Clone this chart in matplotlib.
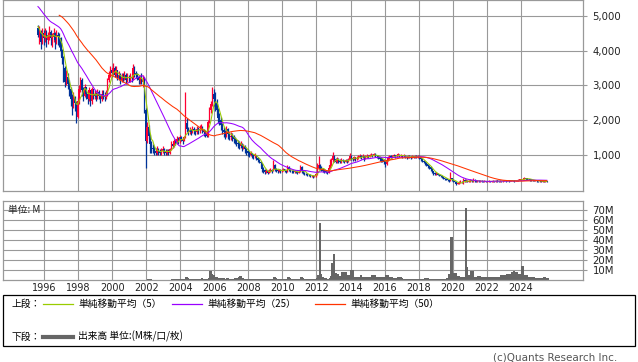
import numpy as np
import pandas as pd
import matplotlib
matplotlib.use("Agg")
import matplotlib.pyplot as plt
from matplotlib.patches import Rectangle
from matplotlib.lines import Line2D
from matplotlib.ticker import FuncFormatter

# monthly closes before the visible range (Oct 1992 - Jul 1995), only used to seed the moving averages
pre_close = [5100, 5200, 5300,
             5250, 5350, 5400, 5300, 5350, 5300, 5450, 5600, 5700, 5750, 5800, 5700,
             5650, 5700, 5600, 5200, 5100, 5050, 5000, 5100, 5050, 5100, 5050, 5500,
             5600, 5550, 5450, 4900, 4800, 4700, 4650]

# monthly candles, Aug 1995 - Jul 2025 (open = previous close)
close = [4450, 4550, 4250, 4500, 4350,
         4500, 4300, 4450, 4550, 4350, 4400, 4500, 4300, 4450, 4400, 4350, 4000,
         3800, 3500, 3100, 3250, 3050, 2900, 2600, 2450, 2650, 2500, 2100, 2550,
         2900, 3150, 2850, 2700, 2950, 2750, 2600, 2850, 2550, 2900, 2700, 2750,
         2650, 2800, 2700, 2600, 2750, 2700, 2650, 2750, 3150, 3300, 3450, 3350,
         3500, 3300, 3450, 3200, 3300, 3150, 3250, 3200, 3300, 3150, 3250, 3200,
         3250, 3200, 3500, 3350, 3300, 3250, 3150, 3200, 3100, 3150, 2300, 1400,
         1800, 1550, 1300, 1200, 1150, 1100, 1050, 1150, 1100, 1050, 1100, 1150,
         1100, 1050, 1100, 1050, 1150, 1300, 1250, 1400, 1350, 1450, 1400, 1500,
         1450, 1400, 1500, 1900, 1750, 1650, 1700, 1650, 1750, 1700, 1650, 1750,
         1700, 1750, 1800, 1700, 1650, 1600, 1550, 1950, 2300, 2450, 2750, 2600,
         2500, 2300, 2050, 2000, 1850, 1700, 1650, 1550, 1750, 1600, 1500, 1550,
         1500, 1450, 1400, 1350, 1300, 1250, 1300, 1200, 1250, 1150, 1100, 1050,
         1000, 1050, 980, 950, 1000, 900, 850, 800, 750, 600, 550, 500,
         520, 480, 530, 560, 530, 700, 580, 550, 520, 560, 530, 540,
         580, 540, 520, 650, 560, 540, 520, 500, 520, 500, 480, 510,
         650, 520, 480, 450, 430, 420, 400, 380, 390, 370, 380, 430,
         620, 700, 600, 580, 540, 520, 500, 480, 620, 700, 850, 950,
         880, 800, 850, 820, 790, 850, 820, 800, 840, 810, 850, 950,
         900, 870, 920, 880, 900, 940, 960, 920, 950, 900, 930, 960,
         940, 980, 1000, 960, 1010, 990, 950, 930, 880, 860, 840, 800,
         720, 850, 900, 950, 920, 960, 980, 950, 990, 1000, 960, 980,
         950, 970, 930, 920, 960, 940, 920, 950, 930, 960, 940, 950,
         920, 860, 820, 800, 760, 720, 680, 640, 600, 520, 460, 430,
         470, 420, 400, 380, 350, 330, 310, 290, 260, 240, 330, 280,
         240, 200, 150, 170, 190, 220, 200, 260, 230, 250, 220, 240,
         260, 230, 280, 250, 230, 240, 230, 240, 230, 220, 230, 220,
         230, 240, 220, 230, 240, 230, 250, 240, 230, 240, 230, 240,
         250, 240, 250, 240, 250, 260, 250, 240, 250, 260, 270, 280,
         290, 300, 320, 310, 300, 290, 280, 270, 260, 250, 250, 240,
         230, 240, 220, 230, 220, 230, 225]

high = [4750, 4700, 4600, 4650, 4600,
        4650, 4600, 4550, 4700, 4600, 4500, 4650, 4550, 4600, 4550, 4500, 4400,
        4050, 3850, 3550, 3450, 3350, 3150, 2950, 2750, 2800, 2700, 2550, 2650,
        3000, 3250, 3200, 2950, 3050, 2950, 2800, 2950, 2850, 2950, 2850, 2850,
        2800, 2900, 2850, 2750, 2850, 2850, 2800, 2850, 3200, 3400, 3550, 3500,
        3650, 3550, 3550, 3450, 3400, 3350, 3350, 3350, 3400, 3350, 3350, 3300,
        3350, 3300, 3600, 3550, 3400, 3350, 3300, 3300, 3350, 3300, 3250, 2350,
        1950, 1850, 1600, 1400, 1300, 1250, 1200, 1250, 1200, 1150, 1200, 1250,
        1200, 1150, 1150, 1150, 1200, 1380, 1350, 1450, 1450, 1550, 1500, 1570,
        1550, 1500, 1550, 2800, 2050, 1800, 1800, 1750, 1820, 1800, 1750, 1820,
        1800, 1850, 1870, 1820, 1750, 1700, 1650, 2000, 2380, 2550, 2960, 2900,
        2800, 2600, 2350, 2200, 2100, 1900, 1800, 1700, 1820, 1780, 1650, 1650,
        1620, 1560, 1500, 1450, 1420, 1380, 1400, 1350, 1320, 1280, 1200, 1150,
        1100, 1100, 1050, 1020, 1060, 1000, 920, 870, 820, 760, 650, 580,
        580, 560, 580, 610, 600, 850, 720, 610, 580, 600, 580, 580,
        620, 600, 570, 700, 660, 590, 570, 550, 560, 540, 530, 560,
        700, 660, 540, 500, 470, 460, 440, 430, 420, 410, 420, 480,
        760, 950, 720, 680, 620, 580, 560, 540, 700, 860, 900, 1070,
        1000, 900, 920, 900, 860, 900, 880, 850, 880, 870, 900, 1040,
        980, 940, 960, 940, 950, 990, 1020, 980, 1010, 960, 980, 1010,
        1000, 1020, 1050, 1030, 1050, 1040, 1000, 980, 940, 920, 900, 870,
        810, 900, 950, 1000, 980, 1000, 1020, 1000, 1030, 1040, 1010, 1020,
        1000, 1010, 990, 960, 1000, 990, 970, 980, 970, 1000, 980, 990,
        980, 940, 880, 850, 820, 780, 740, 700, 660, 620, 540, 500,
        500, 480, 430, 410, 390, 360, 340, 320, 300, 280, 500, 340,
        290, 250, 210, 200, 230, 260, 240, 330, 290, 300, 270, 280,
        300, 280, 330, 300, 260, 270, 260, 270, 260, 250, 260, 250,
        250, 260, 250, 250, 260, 250, 270, 260, 250, 260, 250, 260,
        270, 260, 270, 260, 270, 280, 270, 260, 270, 280, 290, 300,
        310, 330, 350, 340, 320, 310, 300, 290, 280, 270, 270, 260,
        250, 260, 250, 250, 240, 250, 240]

low = [4400, 4200, 4050, 4200, 4150,
       4250, 4100, 4200, 4300, 4150, 4100, 4250, 4050, 4200, 4150, 4100, 3850,
       3600, 3100, 2950, 3000, 2900, 2700, 2400, 2150, 2350, 2250, 1900, 2050,
       2450, 2800, 2700, 2550, 2650, 2600, 2450, 2550, 2400, 2450, 2600, 2600,
       2550, 2600, 2600, 2500, 2550, 2600, 2550, 2600, 2700, 3100, 3250, 3250,
       3300, 3250, 3250, 3150, 3150, 3050, 3100, 3100, 3150, 3050, 3100, 3100,
       3100, 3100, 3150, 3250, 3200, 3150, 3050, 3050, 3050, 2950, 2200, 620,
       1350, 1450, 1050, 1050, 1050, 1000, 1000, 1000, 1000, 980, 1000, 1050,
       1000, 1000, 1000, 1000, 1030, 1130, 1200, 1230, 1280, 1300, 1300, 1350,
       1380, 1300, 1380, 1480, 1650, 1580, 1600, 1580, 1620, 1600, 1570, 1600,
       1600, 1620, 1700, 1620, 1550, 1520, 1500, 1520, 1900, 2200, 2400, 2400,
       2250, 2150, 1900, 1850, 1700, 1600, 1500, 1450, 1500, 1450, 1420, 1420,
       1400, 1350, 1300, 1250, 1200, 1150, 1200, 1100, 1150, 1050, 1000, 950,
       920, 950, 900, 880, 900, 850, 800, 750, 650, 500, 480, 450,
       460, 450, 460, 500, 480, 520, 540, 500, 480, 500, 480, 490,
       520, 500, 480, 510, 520, 490, 480, 460, 470, 460, 450, 470,
       500, 480, 440, 420, 400, 390, 370, 350, 360, 340, 350, 360,
       420, 580, 560, 520, 500, 480, 460, 450, 470, 600, 680, 800,
       800, 760, 770, 760, 750, 770, 780, 760, 780, 770, 790, 840,
       840, 810, 850, 830, 850, 880, 900, 870, 890, 830, 880, 900,
       900, 920, 950, 920, 950, 940, 900, 870, 830, 800, 790, 740,
       650, 700, 830, 880, 880, 900, 930, 900, 940, 950, 920, 930,
       900, 920, 890, 880, 900, 900, 880, 900, 890, 910, 900, 910,
       880, 820, 780, 760, 700, 660, 620, 600, 540, 460, 420, 400,
       420, 400, 370, 350, 320, 300, 280, 260, 230, 215, 230, 250,
       220, 180, 130, 140, 160, 180, 170, 150, 200, 210, 200, 210,
       220, 210, 220, 220, 210, 210, 210, 215, 210, 200, 205, 200,
       210, 220, 200, 210, 220, 210, 225, 220, 210, 220, 210, 220,
       230, 220, 230, 220, 230, 240, 230, 220, 230, 240, 250, 255,
       260, 270, 290, 280, 280, 270, 250, 250, 240, 230, 230, 220,
       210, 220, 200, 210, 200, 210, 210]

# monthly volume (M), Jan 2002 - Jul 2025
volume = [1, 0.5, 0.5, 0.4, 0.4, 0.3, 0.3, 0.3, 0.3, 0.3, 0.3, 0.3,
          0.3, 0.3, 0.3, 0.3, 0.4, 0.6, 0.5, 0.6, 0.5, 0.6, 0.5, 0.6,
          0.5, 0.5, 0.8, 2.5, 1.5, 0.8, 0.6, 0.5, 0.5, 0.5, 0.6, 0.6,
          0.6, 1.2, 1.5, 1.2, 0.6, 0.6, 0.6, 1.5, 8.5, 6, 5, 3,
          2.5, 2, 1.8, 1.5, 1.5, 1.5, 1.2, 1, 1.5, 1, 1, 0.8,
          0.8, 1.5, 2, 1.5, 2.5, 3.5, 2, 1.5, 1.2, 1, 1, 0.8,
          0.8, 0.8, 0.6, 0.6, 0.5, 0.5, 0.5, 0.5, 0.6, 0.8, 0.6, 0.5,
          0.5, 0.5, 0.6, 0.8, 1, 2.5, 2, 1, 0.6, 0.5, 0.5, 0.5,
          0.6, 0.6, 1, 2.5, 1.5, 0.8, 0.6, 0.5, 0.5, 0.5, 0.6, 0.8,
          2.5, 2, 1, 0.8, 0.6, 0.6, 0.6, 0.5, 0.6, 0.6, 1, 2,
          5, 57, 6, 3, 2, 1.5, 1, 1, 2, 4, 17, 26,
          7, 6, 6, 4, 4, 8, 5, 8, 5, 4, 5, 10,
          10, 3, 2.5, 2.5, 2.5, 3, 4.5, 3, 2.5, 2.5, 2.5, 2.5,
          2.5, 3, 4.5, 4.5, 4.5, 3, 2.5, 2.5, 3, 3, 3, 3,
          4.5, 4.5, 3, 2.5, 2.5, 2, 2, 1.5, 3, 3, 2.5, 1.5,
          1.3, 1.3, 1.3, 1.3, 1.3, 1.3, 1.3, 1.2, 1, 1, 1, 1,
          1, 1, 1, 1.6, 1.6, 1.6, 1.2, 1, 1, 1, 1, 1,
          1, 1, 1, 1.3, 1.3, 1.3, 1.3, 1.5, 6, 6, 43, 7,
          7, 7, 4, 4, 2.5, 2.5, 2.5, 2.5, 72, 13, 5, 5,
          9, 9, 2.5, 2.5, 2.5, 4, 4, 2.5, 2.5, 2.5, 2.5, 2.5,
          2.5, 2.5, 2.5, 3, 3, 2.5, 2.5, 3, 3, 5, 5, 5,
          5, 6, 6, 6, 6, 8, 9, 8, 8, 6, 6, 6,
          14, 5, 5, 5, 2.5, 2.5, 2.5, 2.5, 2.5, 2, 2, 2,
          2, 2, 2, 3, 3, 1.5, 1.5]

ma_windows = [5, 25, 50]
ma_colors = ['#99cc00', '#9900ff', '#ff3300']
ma_labels = ['単純移動平均（5）', '単純移動平均（25）', '単純移動平均（50）']
price_ticks = [1000, 2000, 3000, 4000, 5000]
vol_ticks = [10, 20, 30, 40, 50, 60, 70]
year_ticks = list(range(1996, 2025, 2))

UP = '#ff0033'
DOWN = '#003399'
GRID = '#999999'
CJK = ['Noto Sans CJK JP', 'DejaVu Sans']
W, H = 638, 362


def month_pos(y0, m0, n):
    idx = np.arange(n) + (m0 - 1)
    return y0 + (idx + 0.5) / 12.0


def fx(px):
    return px / W


def fy(py):
    return 1 - py / H


t = month_pos(1995, 8, len(close))
t_vol = month_pos(2002, 1, len(volume))

all_close = pd.Series(pre_close + close, dtype=float)
n_pre = len(pre_close)
c = np.array(close, dtype=float)
o = all_close.shift(1).values[n_pre:]

fig = plt.figure(figsize=(W / 100, H / 100), dpi=100)
ax1 = fig.add_axes([fx(3), fy(190.7), fx(579.7), 190.7 / H])
ax2 = fig.add_axes([fx(3), fy(280), fx(579.7), 79 / H])

for ax in (ax1, ax2):
    ax.set_xlim(1993.57, 2027.65)
    ax.set_xticks(year_ticks)
    ax.grid(True, color=GRID, lw=0.8)
    ax.set_axisbelow(True)
    for s in ax.spines.values():
        s.set_color(GRID)
        s.set_linewidth(0.9)
    ax.yaxis.tick_right()
    ax.tick_params(axis='y', colors=GRID, length=3, width=0.8, pad=4,
                   labelcolor='#222222', labelsize=7.3)
    ax.tick_params(axis='x', length=0)

# price panel
ax1.set_ylim(-40, 5460)
ax1.set_yticks(price_ticks)
ax1.yaxis.set_major_formatter(FuncFormatter(lambda v, p: f'{int(v):,}'))
ax1.set_xticklabels([])

up = c >= o
cols = np.where(up, UP, DOWN)
ax1.vlines(t, low, high, colors=cols, lw=0.9, zorder=2)
body_lo = np.minimum(o, c)
body_h = np.maximum(np.abs(c - o), 18)
ax1.bar(t, body_h, bottom=body_lo, width=0.08, color=cols, linewidth=0, zorder=2)

for w, col in zip(ma_windows, ma_colors):
    ma = all_close.rolling(w).mean().values[n_pre:]
    ax1.plot(t, ma, color=col, lw=0.75, zorder=3)

# volume panel
ax2.set_ylim(0, 78.9)
ax2.set_yticks(vol_ticks)
ax2.set_yticklabels([f'{v}M' for v in vol_ticks])
ax2.bar(t_vol, volume, width=0.14, align='edge', color='#666666', linewidth=0, zorder=2)
ax2.set_xticklabels([str(y) for y in year_ticks], fontsize=7)
ax2.tick_params(axis='x', pad=2.5, labelcolor='#222222')
ax2.text(0.009, 0.88, '単位: M', transform=ax2.transAxes, fontsize=7, family=CJK,
         va='center', ha='left', color='#222222')

# legend box
fig.add_artist(Rectangle((fx(3), fy(346)), fx(632), 51 / H, transform=fig.transFigure,
                         fill=False, edgecolor='black', lw=0.9))
fig.text(fx(12), fy(303.5), '上段：', family=CJK, fontsize=7, va='center')
fig.text(fx(12), fy(336.5), '下段：', family=CJK, fontsize=7, va='center')
line_x = [(43, 73), (172, 202), (315, 345)]
for (x0, x1), col, lab in zip(line_x, ma_colors, ma_labels):
    fig.add_artist(Line2D([fx(x0), fx(x1)], [fy(303.5)] * 2, color=col, lw=0.9,
                          transform=fig.transFigure))
    fig.text(fx(x1 + 5), fy(303.5), lab, family=CJK, fontsize=7, va='center')
fig.add_artist(Line2D([fx(43), fx(73)], [fy(336.5)] * 2, color='#666666', lw=3,
                      transform=fig.transFigure))
fig.text(fx(78), fy(336.5), '出来高 単位:(M株/口/枚)', family=CJK, fontsize=7, va='center')

fig.text(fx(617), fy(358), '(c)Quants Research Inc.', ha='right', va='center',
         fontsize=7.5, color='#555555')

fig.savefig('out.png', dpi=100)
